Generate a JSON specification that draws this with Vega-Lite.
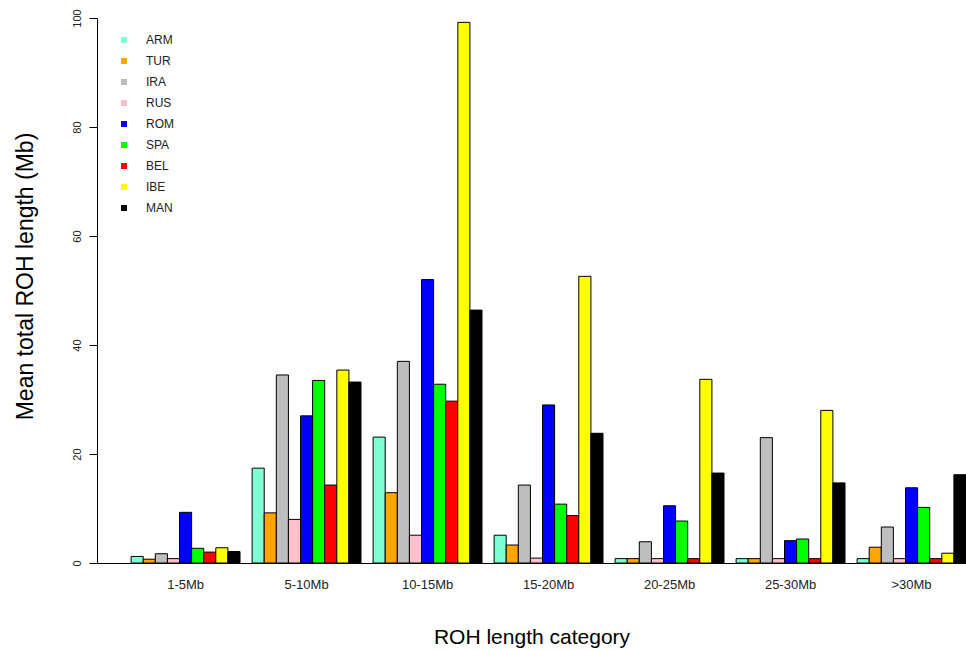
{
  "$schema": "https://vega.github.io/schema/vega-lite/v6.json",
  "width": 869,
  "height": 545,
  "autosize": {"type": "none"},
  "padding": {"left": 97, "top": 18, "right": 0, "bottom": 87},
  "background": "white",
  "config": {"view": {"stroke": null}, "font": "Liberation Sans"},
  "data": {
    "values": [
      {"category": "1-5Mb", "population": "ARM", "value": 1.2},
      {"category": "1-5Mb", "population": "TUR", "value": 0.7},
      {"category": "1-5Mb", "population": "IRA", "value": 1.7},
      {"category": "1-5Mb", "population": "RUS", "value": 0.8},
      {"category": "1-5Mb", "population": "ROM", "value": 9.3},
      {"category": "1-5Mb", "population": "SPA", "value": 2.7},
      {"category": "1-5Mb", "population": "BEL", "value": 2.0},
      {"category": "1-5Mb", "population": "IBE", "value": 2.8},
      {"category": "1-5Mb", "population": "MAN", "value": 2.1},
      {"category": "5-10Mb", "population": "ARM", "value": 17.4},
      {"category": "5-10Mb", "population": "TUR", "value": 9.2},
      {"category": "5-10Mb", "population": "IRA", "value": 34.5},
      {"category": "5-10Mb", "population": "RUS", "value": 8.0},
      {"category": "5-10Mb", "population": "ROM", "value": 27.0},
      {"category": "5-10Mb", "population": "SPA", "value": 33.5},
      {"category": "5-10Mb", "population": "BEL", "value": 14.3},
      {"category": "5-10Mb", "population": "IBE", "value": 35.4},
      {"category": "5-10Mb", "population": "MAN", "value": 33.2},
      {"category": "10-15Mb", "population": "ARM", "value": 23.1},
      {"category": "10-15Mb", "population": "TUR", "value": 12.9},
      {"category": "10-15Mb", "population": "IRA", "value": 37.0},
      {"category": "10-15Mb", "population": "RUS", "value": 5.1},
      {"category": "10-15Mb", "population": "ROM", "value": 52.0},
      {"category": "10-15Mb", "population": "SPA", "value": 32.8},
      {"category": "10-15Mb", "population": "BEL", "value": 29.7},
      {"category": "10-15Mb", "population": "IBE", "value": 99.2},
      {"category": "10-15Mb", "population": "MAN", "value": 46.4},
      {"category": "15-20Mb", "population": "ARM", "value": 5.1},
      {"category": "15-20Mb", "population": "TUR", "value": 3.3},
      {"category": "15-20Mb", "population": "IRA", "value": 14.3},
      {"category": "15-20Mb", "population": "RUS", "value": 0.9},
      {"category": "15-20Mb", "population": "ROM", "value": 29.0},
      {"category": "15-20Mb", "population": "SPA", "value": 10.8},
      {"category": "15-20Mb", "population": "BEL", "value": 8.7},
      {"category": "15-20Mb", "population": "IBE", "value": 52.6},
      {"category": "15-20Mb", "population": "MAN", "value": 23.8},
      {"category": "20-25Mb", "population": "ARM", "value": 0.8},
      {"category": "20-25Mb", "population": "TUR", "value": 0.8},
      {"category": "20-25Mb", "population": "IRA", "value": 3.9},
      {"category": "20-25Mb", "population": "RUS", "value": 0.8},
      {"category": "20-25Mb", "population": "ROM", "value": 10.5},
      {"category": "20-25Mb", "population": "SPA", "value": 7.7},
      {"category": "20-25Mb", "population": "BEL", "value": 0.8},
      {"category": "20-25Mb", "population": "IBE", "value": 33.7},
      {"category": "20-25Mb", "population": "MAN", "value": 16.5},
      {"category": "25-30Mb", "population": "ARM", "value": 0.8},
      {"category": "25-30Mb", "population": "TUR", "value": 0.8},
      {"category": "25-30Mb", "population": "IRA", "value": 23.0},
      {"category": "25-30Mb", "population": "RUS", "value": 0.8},
      {"category": "25-30Mb", "population": "ROM", "value": 4.1},
      {"category": "25-30Mb", "population": "SPA", "value": 4.4},
      {"category": "25-30Mb", "population": "BEL", "value": 0.8},
      {"category": "25-30Mb", "population": "IBE", "value": 28.0},
      {"category": "25-30Mb", "population": "MAN", "value": 14.7},
      {"category": ">30Mb", "population": "ARM", "value": 0.8},
      {"category": ">30Mb", "population": "TUR", "value": 2.9},
      {"category": ">30Mb", "population": "IRA", "value": 6.6},
      {"category": ">30Mb", "population": "RUS", "value": 0.8},
      {"category": ">30Mb", "population": "ROM", "value": 13.8},
      {"category": ">30Mb", "population": "SPA", "value": 10.2},
      {"category": ">30Mb", "population": "BEL", "value": 0.8},
      {"category": ">30Mb", "population": "IBE", "value": 1.8},
      {"category": ">30Mb", "population": "MAN", "value": 16.2}
    ]
  },
  "mark": {"type": "bar", "stroke": "black", "strokeWidth": 1},
  "encoding": {
    "x": {
      "field": "category",
      "type": "nominal",
      "sort": ["1-5Mb", "5-10Mb", "10-15Mb", "15-20Mb", "20-25Mb", "25-30Mb", ">30Mb"],
      "scale": {"paddingInner": 0.1, "paddingOuter": 0.141, "align": 1},
      "axis": {
        "title": "ROH length category",
        "titleFontSize": 21,
        "titleFontWeight": "normal",
        "titleColor": "black",
        "titlePadding": 35,
        "labelAngle": 0,
        "labelFontSize": 13,
        "labelColor": "#222",
        "labelPadding": 15,
        "ticks": false,
        "domain": true,
        "domainColor": "black",
        "domainWidth": 1
      }
    },
    "xOffset": {
      "field": "population",
      "type": "nominal",
      "sort": ["ARM", "TUR", "IRA", "RUS", "ROM", "SPA", "BEL", "IBE", "MAN"],
      "scale": {"paddingInner": 0, "paddingOuter": 0}
    },
    "y": {
      "field": "value",
      "type": "quantitative",
      "scale": {"domain": [0, 100], "nice": false},
      "axis": {
        "title": "Mean total ROH length (Mb)",
        "titleFontSize": 23,
        "titleFontWeight": "normal",
        "titleColor": "black",
        "titlePadding": 34,
        "titleY": 258,
        "values": [0, 20, 40, 60, 80, 100],
        "grid": false,
        "tickSize": 8,
        "tickColor": "black",
        "domainColor": "black",
        "labelAngle": -90,
        "labelAlign": "center",
        "labelBaseline": "bottom",
        "labelPadding": 7,
        "labelFontSize": 11,
        "labelColor": "#222"
      }
    },
    "color": {
      "field": "population",
      "type": "nominal",
      "scale": {
        "domain": ["ARM", "TUR", "IRA", "RUS", "ROM", "SPA", "BEL", "IBE", "MAN"],
        "range": ["#7FFFD4", "#FFA500", "#BEBEBE", "#FFC0CB", "#0000FF", "#00FF00", "#FF0000", "#FFFF00", "#000000"]
      },
      "legend": {
        "orient": "none",
        "legendX": 21,
        "legendY": 16,
        "title": null,
        "padding": 0,
        "symbolType": "square",
        "symbolSize": 36,
        "symbolStrokeWidth": 0,
        "labelFontSize": 12,
        "labelColor": "#222",
        "labelOffset": 16,
        "rowPadding": 9
      }
    }
  }
}
